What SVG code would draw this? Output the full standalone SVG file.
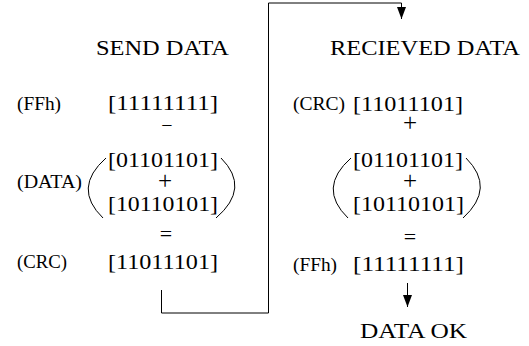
<svg xmlns="http://www.w3.org/2000/svg" width="529" height="346" viewBox="0 0 529 346">
  <style>
    text { font-family: "Liberation Serif", "DejaVu Serif", serif; fill: #000; }
    .title { font-size: 22px; }
    .bits { font-size: 20px; }
    .lbl { font-size: 18px; }
    .op { text-anchor: middle; }
    .plus { font-size: 25px; }
    .paren { fill: none; stroke: #000; stroke-width: 1; }
    .wire { fill: none; stroke: #000; stroke-width: 1; }
  </style>
  <defs>
    <marker id="arrow" viewBox="0 0 12 9" refX="12" refY="4.5" markerWidth="12" markerHeight="9" markerUnits="userSpaceOnUse" orient="auto">
      <path d="M0,0 L12,4.5 L0,9 z" fill="#000"/>
    </marker>
  </defs>
  <rect width="529" height="346" fill="#fff"/>

  <!-- sender side: FFh - (DATA) = CRC -->
  <g id="send">
    <text class="title" x="96" y="55" textLength="133" lengthAdjust="spacingAndGlyphs">SEND DATA</text>
    <g id="send-ffh">
      <text class="lbl" x="17" y="110" textLength="44" lengthAdjust="spacingAndGlyphs">(FFh)</text>
      <text class="bits" x="108" y="110" textLength="110" lengthAdjust="spacingAndGlyphs">[11111111]</text>
    </g>
    <text class="op" x="167" y="132" style="font-size:20px">−</text>
    <g id="send-data">
      <text class="lbl" x="17" y="188" textLength="65" lengthAdjust="spacingAndGlyphs">(DATA)</text>
      <path class="paren" d="M106,158 Q72,188 103,218"/>
      <text class="bits" x="108" y="167" textLength="110" lengthAdjust="spacingAndGlyphs">[01101101]</text>
      <text class="op plus" x="165" y="189">+</text>
      <text class="bits" x="108" y="211" textLength="110" lengthAdjust="spacingAndGlyphs">[10110101]</text>
      <path class="paren" d="M221,158 Q251,188 216,218"/>
    </g>
    <text class="op" x="166" y="241" style="font-size:22px">=</text>
    <g id="send-crc">
      <text class="lbl" x="17" y="268" textLength="50" lengthAdjust="spacingAndGlyphs">(CRC)</text>
      <text class="bits" x="108" y="269" textLength="110" lengthAdjust="spacingAndGlyphs">[11011101]</text>
    </g>
  </g>

  <!-- receiver side: CRC + (DATA) = FFh -->
  <g id="receive">
    <text class="title" x="330" y="55" textLength="190" lengthAdjust="spacingAndGlyphs">RECIEVED DATA</text>
    <g id="recv-crc">
      <text class="lbl" x="293" y="110" textLength="52" lengthAdjust="spacingAndGlyphs">(CRC)</text>
      <text class="bits" x="353" y="111" textLength="110" lengthAdjust="spacingAndGlyphs">[11011101]</text>
    </g>
    <text class="op plus" x="410" y="131">+</text>
    <g id="recv-data">
      <path class="paren" d="M351,158 Q317,188 348,218"/>
      <text class="bits" x="353" y="167" textLength="110" lengthAdjust="spacingAndGlyphs">[01101101]</text>
      <text class="op plus" x="410" y="189">+</text>
      <text class="bits" x="353" y="211" textLength="111" lengthAdjust="spacingAndGlyphs">[10110101]</text>
      <path class="paren" d="M466,158 Q496,188 463,218"/>
    </g>
    <text class="op" x="410" y="244" style="font-size:22px">=</text>
    <g id="recv-ffh">
      <text class="lbl" x="293" y="271" textLength="44" lengthAdjust="spacingAndGlyphs">(FFh)</text>
      <text class="bits" x="353" y="271" textLength="111" lengthAdjust="spacingAndGlyphs">[11111111]</text>
    </g>
  </g>

  <g id="result">
    <text class="title" x="360" y="338" textLength="107" lengthAdjust="spacingAndGlyphs">DATA OK</text>
  </g>

  <!-- connectors -->
  <g id="connectors">
    <path class="wire" d="M161.5,290 V313 H268.5 V3 H401.5 V19" marker-end="url(#arrow)"/>
    <path class="wire" d="M407.5,283 V307" marker-end="url(#arrow)"/>
  </g>
</svg>
